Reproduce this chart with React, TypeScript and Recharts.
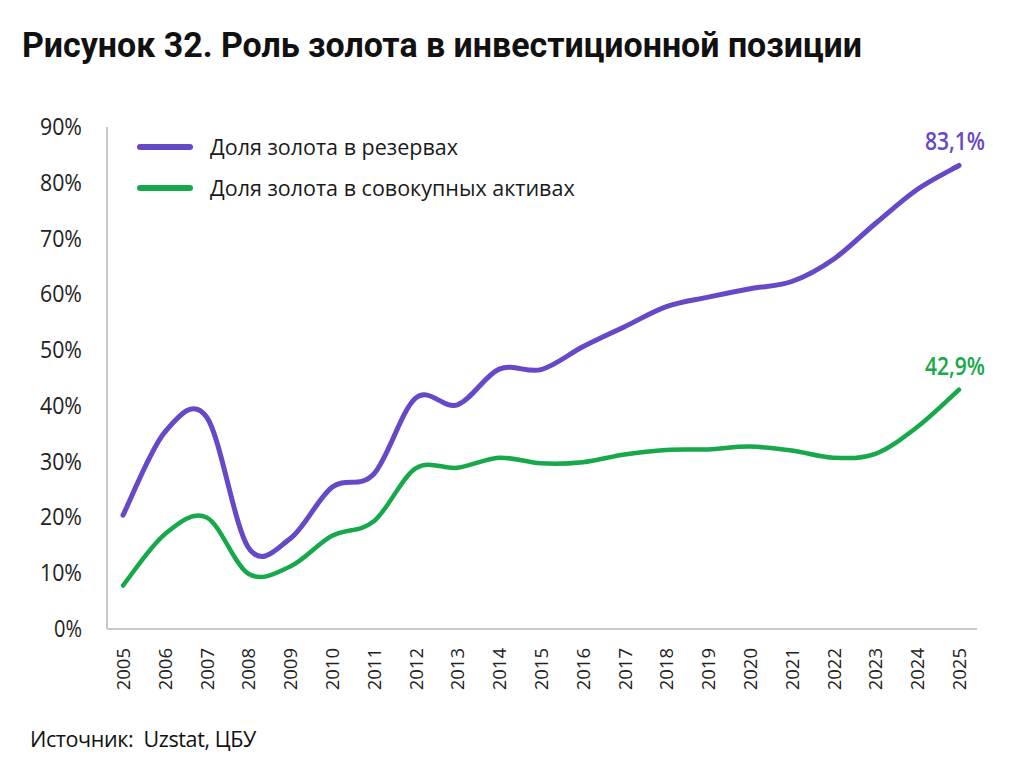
import { LineChart, Line, XAxis, YAxis } from 'recharts';

const years = [
  '2005', '2006', '2007', '2008', '2009', '2010', '2011', '2012', '2013', '2014', '2015',
  '2016', '2017', '2018', '2019', '2020', '2021', '2022', '2023', '2024', '2025',
];
const goldInReserves = [
  20.4, 35.3, 38.0, 14.6, 16.2, 25.4, 27.8, 41.4, 40.2, 46.6, 46.5,
  50.6, 54.2, 57.8, 59.5, 61.0, 62.3, 66.3, 72.7, 78.8, 83.1,
];
const goldInAssets = [
  7.8, 17.0, 20.0, 9.9, 11.2, 16.7, 19.3, 28.8, 28.9, 30.7, 29.7,
  29.9, 31.3, 32.1, 32.2, 32.7, 32.0, 30.7, 31.4, 36.2, 42.9,
];
const yTicks = [0, 10, 20, 30, 40, 50, 60, 70, 80, 90];

const seriesNames = ['Доля золота в резервах', 'Доля золота в совокупных активах'];
const PURPLE = '#6748c6';
const GREEN = '#17a84b';

const data = years.map((y, i) => ({
  year: y,
  reserves: goldInReserves[i],
  assets: goldInAssets[i],
}));

const fmt = (v: number) => v.toFixed(1).replace('.', ',') + '%';

// spreadsheet-style smoothed line (Catmull-Rom through every point)
function smoothCurve(context: any) {
  let pts: number[][] = [];
  return {
    areaStart() {},
    areaEnd() {},
    lineStart() {
      pts = [];
    },
    point(x: number, y: number) {
      pts.push([+x, +y]);
    },
    lineEnd() {
      const n = pts.length;
      if (!n) return;
      context.moveTo(pts[0][0], pts[0][1]);
      for (let i = 0; i < n - 1; i++) {
        const p0 = pts[Math.max(i - 1, 0)];
        const p1 = pts[i];
        const p2 = pts[i + 1];
        const p3 = pts[Math.min(i + 2, n - 1)];
        context.bezierCurveTo(
          p1[0] + (p2[0] - p0[0]) / 6,
          p1[1] + (p2[1] - p0[1]) / 6,
          p2[0] - (p3[0] - p1[0]) / 6,
          p2[1] - (p3[1] - p1[1]) / 6,
          p2[0],
          p2[1],
        );
      }
    },
  };
}

function YearTick(props: any) {
  const { x, y, payload } = props;
  return (
    <text
      x={0}
      y={0}
      transform={`translate(${x + 7},${y + 11}) rotate(-90)`}
      textAnchor="end"
      fontSize={18.5}
      fill="#222"
      fontFamily="'Open Sans', sans-serif"
    >
      {payload.value}
    </text>
  );
}

function PercentTick(props: any) {
  const { x, y, payload } = props;
  const label = `${payload.value}%`;
  return (
    <text
      x={x}
      y={y + 8}
      textAnchor="end"
      fontSize={24}
      fill="#222"
      fontFamily="'Open Sans', sans-serif"
      textLength={label.length === 2 ? 28 : 42}
      lengthAdjust="spacingAndGlyphs"
    >
      {label}
    </text>
  );
}

function endLabel(color: string) {
  return (props: any) => {
    const { x, y, value, index } = props;
    if (index !== years.length - 1) return null;
    return (
      <text
        x={x - 4}
        y={y - 15}
        textAnchor="middle"
        fontSize={25}
        fontWeight={600}
        fill={color}
        fontFamily="'Open Sans', sans-serif"
        textLength={60}
        lengthAdjust="spacingAndGlyphs"
      >
        {fmt(value)}
      </text>
    );
  };
}

const legendItems = [
  { name: seriesNames[0], color: PURPLE },
  { name: seriesNames[1], color: GREEN },
];

export default function App() {
  return (
    <div style={{ position: 'absolute', top: 0, left: 0, width: 1024, height: 766, background: '#fff' }}>
      <svg width={1024} height={95} style={{ position: 'absolute', top: 0, left: 0 }}>
        <text
          x={22}
          y={57}
          fontSize={35}
          fontWeight={700}
          fill="#111"
          fontFamily="Roboto, sans-serif"
          textLength={840}
          lengthAdjust="spacingAndGlyphs"
        >
          Рисунок 32. Роль золота в инвестиционной позиции
        </text>
      </svg>
      <div style={{ position: 'absolute', top: 0, left: 0 }}>
        <LineChart width={1024} height={766} data={data} margin={{ top: 127, right: 47, bottom: 77, left: 27 }}>
          <XAxis
            dataKey="year"
            axisLine={{ stroke: '#c8c8c8', strokeWidth: 2 }}
            tickLine={false}
            tick={<YearTick />}
            interval={0}
            padding={{ left: 16, right: 18 }}
            height={60}
          />
          <YAxis
            domain={[0, 90]}
            ticks={yTicks}
            width={80}
            axisLine={{ stroke: '#c8c8c8', strokeWidth: 2 }}
            tickLine={false}
            tickMargin={19}
            tick={<PercentTick />}
          />
          <Line
            type={smoothCurve as any}
            dataKey="reserves"
            name={seriesNames[0]}
            stroke={PURPLE}
            strokeWidth={5}
            strokeLinecap="round"
            dot={false}
            isAnimationActive={false}
            label={endLabel(PURPLE)}
          />
          <Line
            type={smoothCurve as any}
            dataKey="assets"
            name={seriesNames[1]}
            stroke={GREEN}
            strokeWidth={4.5}
            strokeLinecap="round"
            dot={false}
            isAnimationActive={false}
            label={endLabel(GREEN)}
          />
        </LineChart>
      </div>
      <div style={{ position: 'absolute', top: 126, left: 137 }}>
        {legendItems.map((it) => (
          <div key={it.name} style={{ display: 'flex', alignItems: 'center', height: 41 }}>
            <div style={{ width: 56, height: 6, borderRadius: 3, background: it.color, marginRight: 17 }} />
            <span style={{ fontSize: 21.5, color: '#1a1a1a', fontFamily: "'Open Sans', sans-serif" }}>{it.name}</span>
          </div>
        ))}
      </div>
      <div
        style={{
          position: 'absolute',
          top: 724,
          left: 30,
          fontSize: 21.5,
          color: '#111',
          fontFamily: "'Open Sans', sans-serif",
          letterSpacing: -0.4,
        }}
      >
        Источник:&nbsp; Uzstat, ЦБУ
      </div>
    </div>
  );
}
